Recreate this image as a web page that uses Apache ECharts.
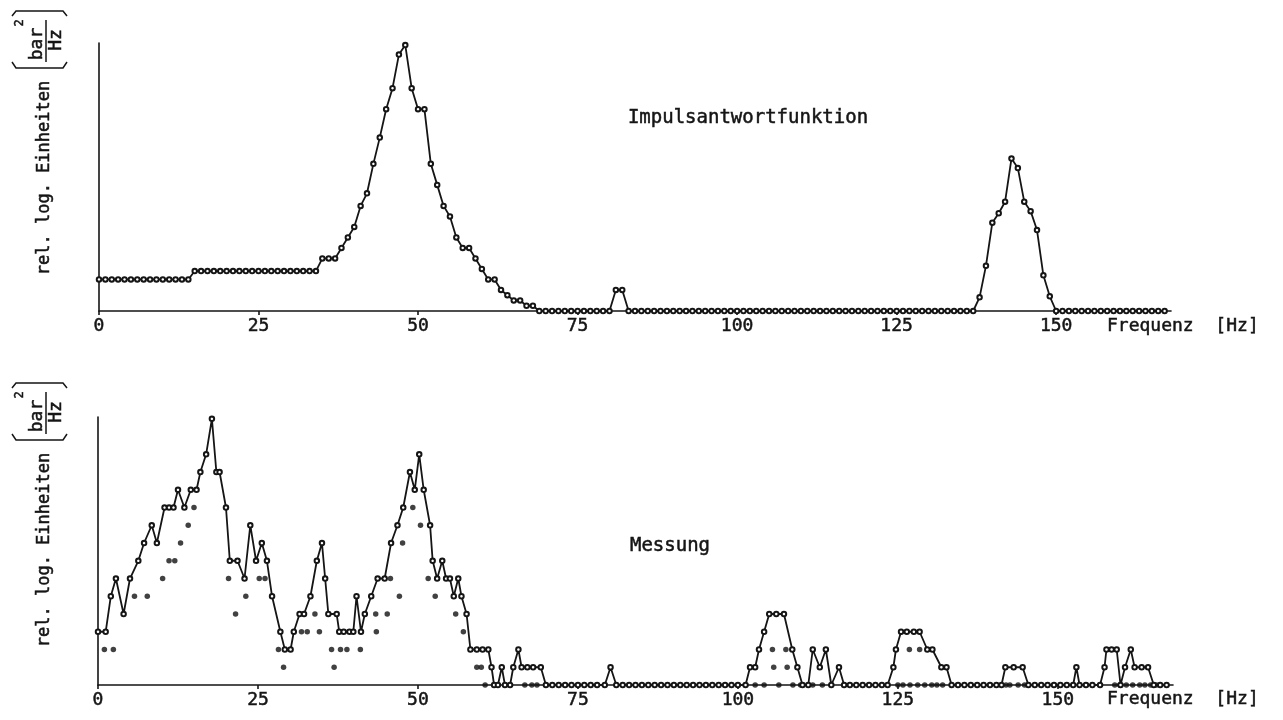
<!DOCTYPE html>
<html>
<head>
<meta charset="utf-8">
<script src="https://cdn.jsdelivr.net/npm/echarts@6/dist/echarts.min.js"></script>
<style>
html, body { margin: 0; padding: 0; background: #fff; }
#chart { width: 1283px; height: 720px; }
</style>
</head>
<body>
<div id="chart"></div>
<script>
// Frequenz-Ticks (Hz)
var freqTicks = [0, 25, 50, 75, 100, 125, 150];

// Impulsantwortfunktion, 1-Hz-Raster 0..167 Hz (rel. log. Einheiten)
var impulsLevels = [
  3, 3, 3, 3, 3, 3, 3, 3, 3, 3, 3, 3, 3, 3, 3,
  3.8, 3.8, 3.8, 3.8, 3.8, 3.8, 3.8, 3.8, 3.8, 3.8, 3.8, 3.8, 3.8, 3.8, 3.8, 3.8, 3.8, 3.8, 3.8, 3.8,
  5, 5, 5,
  6, 7, 8, 10, 11.2, 14, 16.5, 19.2, 21.2, 24.4, 25.3, 21.2, 19.2, 19.2, 14, 12, 10, 9, 7, 6, 6, 5, 4,
  3, 3, 2, 1.5, 1, 1, 0.5, 0.5,
  0, 0, 0, 0, 0, 0, 0, 0, 0, 0, 0, 0,
  2, 2,
  0, 0, 0, 0, 0, 0, 0, 0, 0, 0, 0, 0, 0, 0, 0, 0, 0, 0, 0, 0, 0, 0, 0, 0, 0, 0, 0, 0,
  0, 0, 0, 0, 0, 0, 0, 0, 0, 0, 0, 0, 0, 0, 0, 0, 0, 0, 0, 0, 0, 0, 0, 0, 0, 0, 0,
  1.3, 4.3, 8.4, 9.3, 10.4, 14.5, 13.6, 10.4, 9.5, 7.7, 3.4, 1.4,
  0, 0, 0, 0, 0, 0, 0, 0, 0, 0, 0, 0, 0, 0, 0, 0, 0, 0
];

// Messung, Linie (Hz / Pegel)
var messFreq = [
  0, 1.2, 2.0, 2.8, 4.0, 5.0, 6.3, 7.2, 8.4, 9.2, 10.4, 11.1, 11.8, 12.5, 13.5, 14.5, 15.4, 16.0, 16.9, 17.8,
  18.5, 19.0, 20.0, 20.6, 21.8, 22.9, 23.8, 24.7, 25.6, 26.4, 27.2, 28.5, 29.2, 30.1, 30.6, 31.5, 32.2, 33.2,
  34.2, 35.0, 35.5, 36.0, 37.3, 37.7, 38.4, 39.3, 39.9, 40.4, 41.1, 41.7, 42.7, 43.7, 44.8, 45.8, 46.8, 47.7,
  48.75, 49.5, 50.2, 50.9, 51.9, 52.3, 53.0, 53.8, 54.4, 55.0, 55.6, 56.3, 56.8, 57.6, 58.2, 59.2, 60.1, 61.0,
  61.5, 61.9, 62.5, 63.1, 63.6, 64.4, 64.9, 65.7, 66.2, 67.1, 68.0, 69.2, 70, 71, 72, 73, 74, 75, 76, 77, 78,
  79.2, 80.1, 81, 82, 83, 84, 85, 86, 87, 88, 89, 90, 91, 92, 93, 94, 95, 96, 97, 98, 99, 100, 101.2,
  101.9, 102.7, 103.3, 104.1, 104.9, 106.0, 107.2, 108.5, 109.3, 110.1, 111.0, 111.7, 112.8, 113.75, 114.6,
  115.8, 116.6, 117.5, 118.5, 119.5, 120.5, 121.5, 122.5, 123.4, 124.3, 124.7, 125.5, 126.4, 127.5, 128.4,
  129.6, 130.4, 131.8, 132.6, 133.4, 134.4, 135.4, 136.4, 137.4, 138.4, 139.4, 140.4, 141.2, 141.8, 143.1,
  144.5, 145.4, 146.4, 147.4, 148.4, 149.4, 150.4, 151.4, 152.4, 152.9, 153.4, 154.4, 155.4, 156.6, 157.3,
  157.6, 158.4, 159.2, 159.8, 160.5, 161.4, 162.0, 163.1, 164.1, 165.0, 166.0, 167.0
];
var messLevel = [
  3, 3, 5, 6, 4, 6, 7, 8, 9, 8, 10, 10, 10, 11, 10, 11, 11, 12, 13, 15,
  12, 12, 10, 7, 7, 6, 9, 7, 8, 7, 5, 3, 2, 2, 3, 4, 4, 5,
  7, 8, 6, 4, 4, 3, 3, 3, 3, 5, 3, 4, 5, 6, 6, 8, 9, 10,
  12, 11, 13, 11, 9, 7, 6, 7, 6, 6, 5, 6, 5, 4, 2, 2, 2, 2,
  1, 0, 0, 1, 0, 0, 1, 2, 1, 1, 1, 1, 0, 0, 0, 0, 0, 0, 0, 0, 0,
  0, 1, 0, 0, 0, 0, 0, 0, 0, 0, 0, 0, 0, 0, 0, 0, 0, 0, 0, 0, 0, 0, 0,
  1, 1, 2, 3, 4, 4, 4, 2, 1, 0, 0, 2, 1, 2, 0,
  1, 0, 0, 0, 0, 0, 0, 0, 0, 1, 2, 3, 3, 3, 3,
  2, 2, 1, 1, 0, 0, 0, 0, 0, 0, 0, 0, 0, 1, 1,
  1, 0, 0, 0, 0, 0, 0, 0, 0, 1, 0, 0, 0, 0, 1,
  2, 2, 2, 0, 1, 2, 1, 1, 1, 0, 0, 0
];

// Messung, Einzelpunkte (Hz / Pegel)
var punktFreq = [
  1.0, 2.4, 5.7, 7.7, 10.1, 11.1, 12.0, 12.9, 14.1, 15.0, 20.4, 21.5, 23.1, 25.2, 26.1, 28.2, 29.0,
  31.8, 32.7, 33.9, 34.6, 36.5, 36.9, 37.9, 38.9, 41.0, 43.4, 43.5, 45.2, 45.7, 47.1, 47.6, 49.2, 50.4,
  51.6, 52.7, 55.9, 57.1, 59.2, 59.9, 60.5, 66.7, 67.8, 68.6, 102.7, 104.1, 105.4, 105.6, 106.4, 107.5,
  107.7, 108.6, 109.8, 111.7, 113.2, 125.0, 125.8, 126.8, 126.9, 128.1, 128.4, 129.2, 130.3, 131.1, 132.0,
  141.9, 142.5, 143.8, 144.8, 158.9, 159.7, 160.7, 161.7, 162.8, 163.6, 164.5, 165.4
];
var punktLevel = [
  2, 2, 5, 5, 6, 7, 7, 8, 9, 10, 6, 4, 5, 6, 6, 2, 1,
  3, 3, 4, 3, 2, 1, 2, 2, 2, 4, 3, 4, 6, 5, 8, 10, 9,
  6, 5, 4, 3, 1, 1, 0, 0, 0, 0, 0, 0, 2, 1, 0, 2,
  1, 0, 0, 0, 0, 0, 0, 2, 0, 0, 2, 0, 0, 0, 0,
  0, 0, 0, 0, 0, 0, 0, 0, 0, 0, 0, 0
];

// Plotterschrift: gleichmaessige Zeichenbreite
var FONT = "'DejaVu Sans Mono', 'Liberation Mono', monospace";
var INK = '#151515';

var chart = echarts.init(document.getElementById('chart'));

function xAxisFor(gridIndex) {
  return {
    gridIndex: gridIndex,
    type: 'value',
    min: 0,
    max: 168,
    interval: 25,
    axisLine: { onZero: false, lineStyle: { color: INK, width: 1.6 } },
    axisTick: { show: true, length: 4, customValues: freqTicks, lineStyle: { color: INK, width: 1.6 } },
    axisLabel: {
      customValues: freqTicks, color: INK, fontSize: 18, fontFamily: FONT, margin: 6,
      textBorderColor: INK, textBorderWidth: 0.5
    },
    splitLine: { show: false }
  };
}

function yAxisFor(gridIndex, max) {
  return {
    gridIndex: gridIndex,
    type: 'value',
    min: 0,
    max: max,
    axisLine: { show: true, lineStyle: { color: INK, width: 1.6 } },
    axisTick: { show: false },
    axisLabel: { show: false },
    splitLine: { show: false }
  };
}

function label(text, x, y, size, align, rot) {
  return {
    type: 'text', x: x, y: y, rotation: rot || 0,
    style: {
      text: text, fill: INK, stroke: INK, lineWidth: 0.5,
      fontSize: size, fontFamily: FONT, align: align || 'center', verticalAlign: 'middle'
    }
  };
}

// y-Achsentitel und Einheit je Panel
function axisTitle(dy) {
  var lineStyle = { stroke: INK, lineWidth: 1.5, fill: null };
  var r = Math.PI / 2;
  return [
    label('rel. log. Einheiten', 45, 178 + dy, 17, 'center', r),
    label('bar', 37, 44 + dy, 18, 'center', r),
    label('2', 20, 23 + dy, 12, 'center', r),
    label('Hz', 56, 40 + dy, 18, 'center', r),
    { type: 'line', shape: { x1: 46, y1: 20 + dy, x2: 46, y2: 62 + dy }, style: lineStyle },
    { type: 'polyline', shape: { points: [[12, 16 + dy], [16, 11 + dy], [63, 11 + dy], [67, 16 + dy]] }, style: lineStyle },
    { type: 'polyline', shape: { points: [[12, 62 + dy], [16, 68 + dy], [63, 68 + dy], [67, 62 + dy]] }, style: lineStyle }
  ];
}

var graphics = [].concat(axisTitle(0), axisTitle(372), [
  label('Impulsantwortfunktion', 748, 118, 19),
  label('Messung', 670, 546, 19),
  label('Frequenz  [Hz]', 1107, 326, 18, 'left'),
  label('Frequenz  [Hz]', 1107, 699, 18, 'left')
]);

var option = {
  backgroundColor: '#fff',
  animation: false,
  grid: [
    { left: 99, top: 43, width: 1072, height: 268 },
    { left: 98, top: 417, width: 1075, height: 268 }
  ],
  xAxis: [xAxisFor(0), xAxisFor(1)],
  yAxis: [yAxisFor(0, 25.5), yAxisFor(1, 15.1)],
  graphic: graphics,
  series: [
    {
      name: 'Impulsantwortfunktion',
      type: 'line',
      xAxisIndex: 0, yAxisIndex: 0,
      data: impulsLevels.map(function (v, i) { return [i, v]; }),
      symbol: 'emptyCircle',
      symbolSize: 4.5,
      lineStyle: { color: INK, width: 1.8 },
      itemStyle: { color: INK, borderWidth: 1.2 }
    },
    {
      name: 'Messung',
      type: 'line',
      xAxisIndex: 1, yAxisIndex: 1,
      data: messFreq.map(function (f, i) { return [f, messLevel[i]]; }),
      symbol: 'emptyCircle',
      symbolSize: 4.5,
      lineStyle: { color: INK, width: 1.8 },
      itemStyle: { color: INK, borderWidth: 1.2 }
    },
    {
      name: 'Messung Punkte',
      type: 'scatter',
      xAxisIndex: 1, yAxisIndex: 1,
      data: punktFreq.map(function (f, i) { return [f, punktLevel[i]]; }),
      symbol: 'circle',
      symbolSize: 5.5,
      itemStyle: { color: '#111' }
    }
  ]
};

chart.setOption(option);
</script>
</body>
</html>
